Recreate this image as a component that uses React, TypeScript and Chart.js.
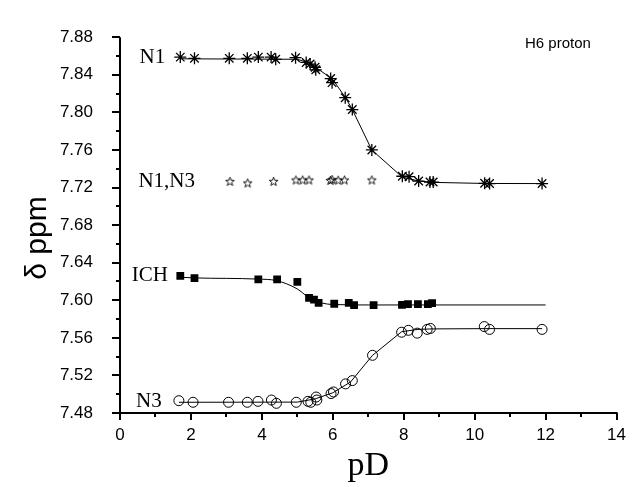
import React, { useEffect, useRef } from "react";
import { Chart, registerables } from "chart.js";

Chart.register(...registerables);

// ---- data ----
const n1X = [1.7, 2.1, 3.08, 3.59, 3.9, 4.26, 4.39, 4.95, 5.25, 5.36, 5.5, 5.52, 5.94, 5.98, 6.35, 6.55, 7.1, 7.96, 8.15, 8.42, 8.74, 8.83, 10.28, 10.42, 11.9];
const n1Y = [7.8588, 7.8575, 7.8575, 7.8575, 7.8588, 7.8588, 7.8565, 7.8582, 7.8531, 7.8514, 7.848, 7.8453, 7.836, 7.8316, 7.8156, 7.803, 7.76, 7.732, 7.7315, 7.7269, 7.7258, 7.7258, 7.7245, 7.7242, 7.7242];
const n1FitX = [1.7, 5.0, 5.3, 5.5, 6.0, 6.35, 6.55, 7.1, 7.96, 8.42, 8.8, 10.3, 11.9];
const n1FitY = [7.857, 7.8565, 7.853, 7.8485, 7.835, 7.816, 7.803, 7.76, 7.731, 7.727, 7.7255, 7.7243, 7.7242];

const n1n3X = [3.1, 3.6, 4.33, 4.96, 5.15, 5.33, 5.93, 5.98, 6.15, 6.33, 7.1];
const n1n3Y = [7.7265, 7.7248, 7.7265, 7.728, 7.728, 7.728, 7.7275, 7.7285, 7.7278, 7.728, 7.728];

const ichX = [1.7, 2.1, 3.9, 4.43, 5.0, 5.33, 5.47, 5.6, 6.04, 6.45, 6.6, 7.15, 7.95, 8.12, 8.4, 8.68, 8.8];
const ichY = [7.626, 7.6235, 7.6222, 7.6222, 7.6195, 7.6025, 7.6007, 7.5973, 7.5963, 7.5973, 7.5949, 7.5949, 7.595, 7.596, 7.596, 7.596, 7.597];
const ichFitX = [1.7, 2.1, 3.9, 4.4, 5.0, 5.3, 5.5, 5.7, 6.0, 7.0, 12.0];
const ichFitY = [7.6245, 7.6238, 7.6225, 7.621, 7.612, 7.6035, 7.6, 7.597, 7.5955, 7.595, 7.595];

const n3X = [1.66, 2.06, 3.06, 3.59, 3.89, 4.27, 4.41, 4.97, 5.3, 5.38, 5.53, 5.55, 5.95, 6.02, 6.36, 6.55, 7.12, 7.94, 8.13, 8.38, 8.66, 8.75, 10.27, 10.42, 11.9];
const n3Y = [7.4931, 7.4914, 7.4914, 7.4914, 7.4924, 7.4938, 7.4903, 7.4914, 7.4924, 7.4914, 7.497, 7.4938, 7.5007, 7.5024, 7.511, 7.5145, 7.5414, 7.566, 7.568, 7.565, 7.569, 7.57, 7.572, 7.569, 7.569];
const n3FitX = [1.66, 5.0, 5.5, 6.0, 6.5, 7.12, 7.94, 8.4, 8.8, 10.3, 11.9];
const n3FitY = [7.4914, 7.4916, 7.495, 7.5015, 7.513, 7.5414, 7.5665, 7.569, 7.5695, 7.5698, 7.5698];

const xTicks = [0, 2, 4, 6, 8, 10, 12, 14];
const yTicks = [7.48, 7.52, 7.56, 7.6, 7.64, 7.68, 7.72, 7.76, 7.8, 7.84, 7.88];

const seriesLabels = [
  { text: "N1", x: 0.55, y: 7.858 },
  { text: "N1,N3", x: 0.52, y: 7.7265 },
  { text: "ICH", x: 0.33, y: 7.626 },
  { text: "N3", x: 0.45, y: 7.4924 },
];

const pts = (xs: number[], ys: number[]) => xs.map((x, i) => ({ x, y: ys[i] }));

function makeStar(): HTMLCanvasElement {
  const c = document.createElement("canvas");
  c.width = 11;
  c.height = 11;
  const g = c.getContext("2d")!;
  g.strokeStyle = "#000";
  g.lineWidth = 0.9;
  g.beginPath();
  const cx = 5.5, cy = 5.8, R = 4.6, r = 1.9;
  for (let i = 0; i < 10; i++) {
    const a = -Math.PI / 2 + (i * Math.PI) / 5;
    const rad = i % 2 === 0 ? R : r;
    const px = cx + rad * Math.cos(a);
    const py = cy + rad * Math.sin(a);
    if (i === 0) g.moveTo(px, py);
    else g.lineTo(px, py);
  }
  g.closePath();
  g.stroke();
  return c;
}

const axesPlugin = {
  id: "axesPlugin",
  afterDraw(chart: any) {
    const { ctx, scales } = chart;
    const xs = scales.x;
    const ys = scales.y;
    const x0 = xs.getPixelForValue(0);
    const x14 = xs.getPixelForValue(14);
    const yb = ys.getPixelForValue(7.48);
    const yt = ys.getPixelForValue(7.88);
    ctx.save();
    ctx.strokeStyle = "#000";
    ctx.lineWidth = 2;
    ctx.beginPath();
    ctx.moveTo(x0, yt);
    ctx.lineTo(x0, yb);
    ctx.moveTo(x0 - 1, yb);
    ctx.lineTo(x14 + 1, yb);
    for (let i = 0; i <= 20; i++) {
      const v = 7.48 + i * 0.02;
      const py = Math.round(ys.getPixelForValue(v));
      const len = i % 2 === 0 ? 8 : 4;
      ctx.moveTo(x0, py);
      ctx.lineTo(x0 - len, py);
    }
    for (let i = 0; i <= 14; i++) {
      const px = Math.round(xs.getPixelForValue(i));
      const len = i % 2 === 0 ? 7 : 4;
      ctx.moveTo(px, yb);
      ctx.lineTo(px, yb + len);
    }
    ctx.stroke();

    ctx.fillStyle = "#000";
    ctx.font = "21px 'Liberation Serif'";
    ctx.textAlign = "left";
    ctx.textBaseline = "middle";
    for (const l of seriesLabels) {
      ctx.fillText(l.text, xs.getPixelForValue(l.x), ys.getPixelForValue(l.y));
    }
    ctx.font = "15px 'Liberation Sans'";
    ctx.fillText("H6 proton", 525, 44);
    ctx.font = "34px 'Liberation Serif'";
    ctx.textAlign = "center";
    ctx.textBaseline = "middle";
    ctx.fillText("pD", (x0 + x14) / 2, 466);
    ctx.save();
    ctx.translate(38, 238);
    ctx.rotate(-Math.PI / 2);
    ctx.font = "30px 'Liberation Sans'";
    ctx.fillText("\u03b4 ppm", 0, 0);
    ctx.restore();
    ctx.restore();
  },
};

export default function App() {
  const ref = useRef<HTMLCanvasElement | null>(null);
  useEffect(() => {
    if (!ref.current) return;
    const star = makeStar();
    const lineDs = (xs: number[], ys: number[], tension: boolean) => ({
      type: "line" as const,
      data: pts(xs, ys),
      borderColor: "#000",
      borderWidth: 1,
      pointRadius: 0,
      fill: false,
      cubicInterpolationMode: tension ? ("monotone" as const) : ("default" as const),
      tension: 0,
      order: 2,
    });
    const chart = new Chart(ref.current, {
      type: "scatter",
      data: {
        datasets: [
          lineDs(n1FitX, n1FitY, false),
          lineDs(ichFitX, ichFitY, true),
          lineDs(n3FitX, n3FitY, false),
          {
            data: pts(n1X, n1Y),
            pointStyle: "star",
            pointRadius: 6,
            borderColor: "#000",
            borderWidth: 1.3,
            backgroundColor: "#000",
            order: 1,
          },
          {
            data: pts(n1n3X, n1n3Y),
            pointStyle: star as any,
            pointRadius: 5,
            order: 1,
          },
          {
            data: pts(ichX, ichY),
            pointStyle: "rect",
            pointRadius: 5.5,
            borderColor: "#000",
            borderWidth: 0,
            backgroundColor: "#000",
            order: 1,
          },
          {
            data: pts(n3X, n3Y),
            pointStyle: "circle",
            pointRadius: 5,
            borderColor: "#000",
            borderWidth: 1,
            backgroundColor: "rgba(255,255,255,0)",
            order: 1,
          },
        ],
      },
      options: {
        responsive: false,
        animation: false,
        devicePixelRatio: 1,
        layout: { padding: { top: 22, right: 21, left: 0, bottom: 0 } },
        plugins: { legend: { display: false }, tooltip: { enabled: false } },
        scales: {
          x: {
            type: "linear",
            min: 0,
            max: 14,
            grid: { display: false, drawTicks: false, tickLength: 0 },
            border: { display: false },
            afterBuildTicks: (s: any) => {
              s.ticks = xTicks.map((v) => ({ value: v }));
            },
            afterFit: (s: any) => {
              s.height = 74;
            },
            ticks: {
              color: "#000",
              font: { family: "'Liberation Sans'", size: 17 },
              padding: 12,
              maxRotation: 0,
              autoSkip: false,
              callback: (v: any) => String(v),
            },
          },
          y: {
            type: "linear",
            min: 7.48,
            max: 7.88,
            grid: { display: false, drawTicks: false, tickLength: 0 },
            border: { display: false },
            afterBuildTicks: (s: any) => {
              s.ticks = yTicks.map((v) => ({ value: v }));
            },
            afterFit: (s: any) => {
              s.width = 120;
            },
            ticks: {
              color: "#000",
              font: { family: "'Liberation Sans'", size: 17 },
              padding: 27,
              autoSkip: false,
              callback: (v: any) => Number(v).toFixed(2),
            },
          },
        },
      },
      plugins: [axesPlugin],
    } as any);
    return () => chart.destroy();
  }, []);
  return (
    <div style={{ position: "absolute", left: 0, top: 0, width: 638, height: 487, background: "#fff" }}>
      <canvas ref={ref} width={638} height={487} style={{ display: "block", width: 638, height: 487 }} />
    </div>
  );
}
